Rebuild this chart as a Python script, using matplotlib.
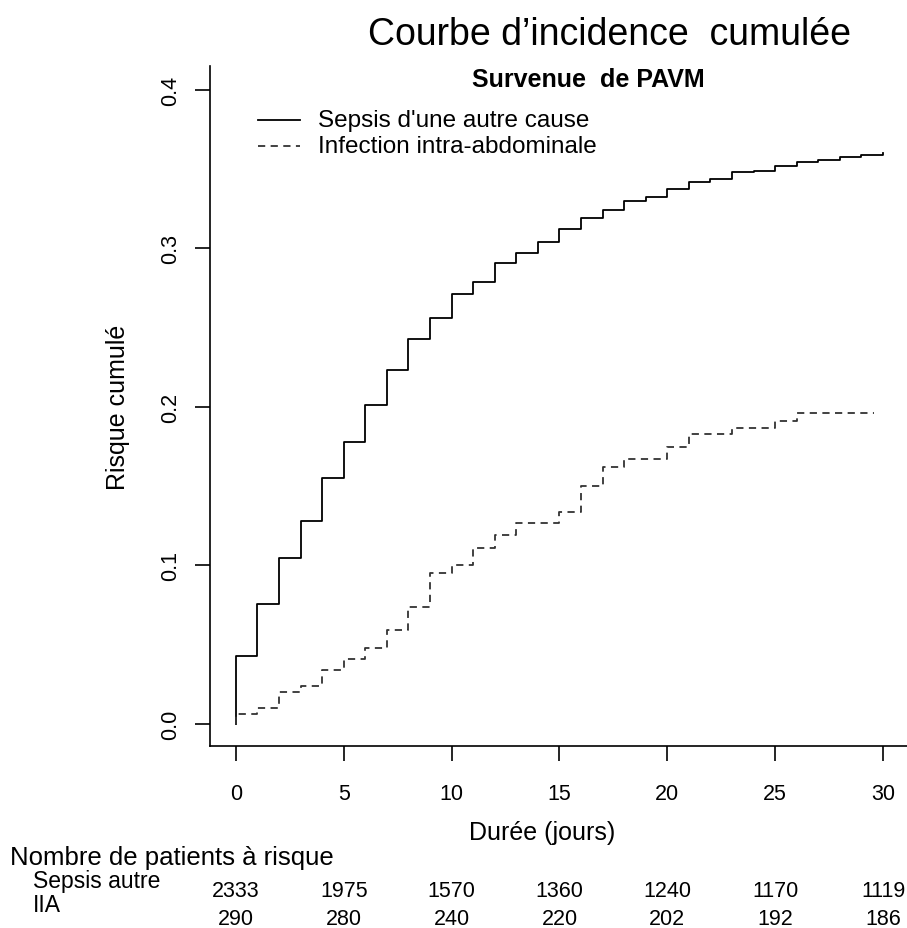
import numpy as np
import matplotlib
matplotlib.use('Agg')
import matplotlib.pyplot as plt

# data
days_sepsis = [0, 0, 1, 2, 3, 4, 5, 6, 7, 8, 9, 10, 11, 12, 13, 14, 15, 16, 17, 18, 19,
               20, 21, 22, 23, 24, 25, 26, 27, 28, 29, 30]
risk_sepsis = [0.0, 0.043, 0.076, 0.105, 0.128, 0.155, 0.178, 0.201, 0.223, 0.243, 0.256,
               0.271, 0.279, 0.291, 0.297, 0.304, 0.312, 0.319, 0.324, 0.330, 0.3325,
               0.3375, 0.342, 0.344, 0.348, 0.349, 0.352, 0.3545, 0.356, 0.358, 0.359, 0.360]

days_iia = [0, 0, 1, 2, 3, 4, 5, 6, 7, 8, 9, 10, 11, 12, 13, 15, 16, 17, 18, 20, 21, 23, 25, 26, 29.6]
risk_iia = [0.0, 0.0063, 0.010, 0.020, 0.024, 0.034, 0.041, 0.048, 0.059, 0.074, 0.095, 0.100,
            0.111, 0.119, 0.127, 0.134, 0.150, 0.162, 0.167, 0.175, 0.183, 0.187, 0.191, 0.196, 0.196]

legend_labels = ["Sepsis d'une autre cause", 'Infection intra-abdominale']

table_times = [0, 5, 10, 15, 20, 25, 30]
n_sepsis = [2333, 1975, 1570, 1360, 1240, 1170, 1119]
n_iia = [290, 280, 240, 220, 202, 192, 186]

W, H = 907, 929
plt.rcParams['font.family'] = ['Liberation Sans', 'DejaVu Sans']

fig = plt.figure(figsize=(W/100., H/100.), dpi=100)
ax = fig.add_axes([210./W, 1-747./H, 697./W, (747.-67.)/H])

ax.step(days_sepsis, risk_sepsis, where='post', color='black', lw=1.3)
ax.step(days_iia, risk_iia, where='post', color='#333333', lw=1.3, linestyle=(0, (4, 3)))

ax.set_xlim(-1.2, 31.11)
ax.set_ylim(-0.0139, 0.4151)
ax.spines['top'].set_visible(False)
ax.spines['right'].set_visible(False)
for s in ['left', 'bottom']:
	ax.spines[s].set_linewidth(1.2)

ax.set_xticks(table_times)
ax.set_xticklabels([str(t) for t in table_times])
ax.set_yticks([0.0, 0.1, 0.2, 0.3, 0.4])
ax.set_yticklabels(['0.0', '0.1', '0.2', '0.3', '0.4'], rotation=90, va='center')
ax.tick_params(direction='out', length=11, width=1.2, labelsize=15.5)
ax.tick_params(axis='x', pad=16)
ax.tick_params(axis='y', pad=10)

# legend drawn by hand
leg_y = [121, 147]
styles = ['-', (0, (4, 3))]
cols = ['black', '#333333']
for i in range(2):
	yy = 1 - leg_y[i]/float(H)
	fig.add_artist(plt.Line2D([258./W, 300./W], [yy, yy], color=cols[i], lw=1.3, linestyle=styles[i]))
	fig.text(318./W, yy, legend_labels[i], fontsize=17.5, va='center', ha='left')

fig.text(610./W, 1-35./H, 'Courbe d\u2019incidence  cumulée', fontsize=27, ha='center', va='center')
fig.text(588./W, 1-80./H, 'Survenue  de PAVM', fontsize=18, weight='bold', ha='center', va='center')

fig.text(118./W, 1-407./H, 'Risque cumulé', fontsize=18, rotation=90, ha='center', va='center')
fig.text(542./W, 1-840./H, 'Durée (jours)', fontsize=18, ha='center', va='baseline')

# risk table
fig.text(10./W, 1-865./H, 'Nombre de patients à risque', fontsize=18.5, ha='left', va='baseline')
fig.text(33./W, 1-888./H, 'Sepsis autre', fontsize=16.5, ha='left', va='baseline')
fig.text(33./W, 1-912./H, 'IIA', fontsize=16.5, ha='left', va='baseline')
for t, a, b in zip(table_times, n_sepsis, n_iia):
	xf = ax.transData.transform((t, 0))[0] / W
	fig.text(xf, 1-897./H, str(a), fontsize=15.5, ha='center', va='baseline')
	fig.text(xf, 1-925./H, str(b), fontsize=15.5, ha='center', va='baseline')

plt.savefig('out.png', dpi=100)
